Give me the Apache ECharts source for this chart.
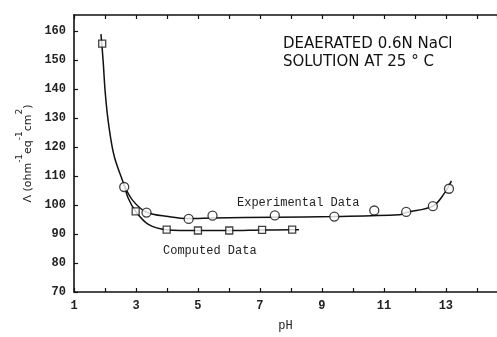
<!DOCTYPE html>
<html>
<head>
<meta charset="utf-8">
<script src="https://cdn.jsdelivr.net/npm/echarts@6/dist/echarts.min.js"></script>
<style>
  html, body { margin: 0; padding: 0; background: #fff; }
  #chart { width: 497px; height: 337px; }
</style>
</head>
<body>
<div id="chart"></div>
<script>
// fitted curves
const computedCurve = [
  [1.87, 158.9], [1.94, 149.7], [2.01, 138.5], [2.12, 127.6], [2.30, 116.7],
  [2.62, 106.8], [2.75, 102.3], [2.99, 97.8], [3.4, 93.3], [3.99, 91.5],
  [5.0, 91.2], [6.01, 91.2], [7.07, 91.4], [8.04, 91.5], [8.26, 91.5]
]
const experimentalCurve = [
  [2.62, 106.8], [2.9, 101.5], [3.34, 97.5], [4.05, 96.0], [4.7, 95.3],
  [5.5, 95.5], [7.5, 95.8], [9.4, 96.0], [11.5, 96.6], [11.72, 97.4],
  [12.58, 99.6], [12.95, 104.0], [13.18, 108.3]
]
// measured points
const computedPoints = [
  [1.91, 155.6], [2.99, 97.8], [3.99, 91.5], [5.0, 91.2], [6.01, 91.2],
  [7.07, 91.4], [8.04, 91.5]
]
const experimentalPoints = [
  [2.62, 106.2], [3.34, 97.4], [4.70, 95.2], [5.47, 96.3], [7.48, 96.4],
  [9.40, 96.0], [10.69, 98.1], [11.72, 97.6], [12.58, 99.6], [13.1, 105.6]
]
const xTickLabels = [1, 3, 5, 7, 9, 11, 13]

const mono = 'Liberation Mono'
const chart = echarts.init(document.getElementById('chart'))

const axisCommon = {
  type: 'value',
  min: 1,
  max: 14.65,
  interval: 1,
  axisLine: { lineStyle: { color: '#111', width: 1.6 } },
  axisTick: { inside: true, length: 4, lineStyle: { color: '#111', width: 1.2 } },
  splitLine: { show: false }
}

chart.setOption({
  animation: false,
  grid: { left: 74, right: 0, top: 15, bottom: 34 },
  xAxis: [
    Object.assign({}, axisCommon, {
      position: 'bottom',
      name: 'pH',
      nameLocation: 'middle',
      nameGap: 28,
      nameTextStyle: { fontFamily: mono, fontSize: 12, color: '#222' },
      axisLabel: {
        fontFamily: mono, fontSize: 12, fontWeight: 'bold', color: '#222', margin: 8,
        showMaxLabel: false,
        formatter: v => (xTickLabels.includes(v) ? String(v) : '')
      }
    }),
    Object.assign({}, axisCommon, {
      position: 'top',
      axisLabel: { show: false }
    })
  ],
  yAxis: {
    type: 'value',
    min: 70,
    max: 165.5,
    interval: 10,
    axisLine: { lineStyle: { color: '#111', width: 1.6 } },
    axisTick: { inside: true, length: 4, lineStyle: { color: '#111', width: 1.2 } },
    splitLine: { show: false },
    axisLabel: {
      fontFamily: mono, fontSize: 12, fontWeight: 'bold', color: '#222', margin: 8,
      showMaxLabel: false
    },
    name: '{b|\u039b (ohm}{s|-1}{b|eq}{s|-1}{b|cm}{s|2}{b|)}',
    nameLocation: 'middle',
    nameGap: 30,
    nameTextStyle: {
      rich: {
        b: { fontFamily: 'DejaVu Sans', fontSize: 11, color: '#222', verticalAlign: 'bottom', lineHeight: 18 },
        s: { fontFamily: 'DejaVu Sans', fontSize: 9, color: '#222', verticalAlign: 'top', lineHeight: 18 }
      }
    }
  },
  graphic: [
    {
      type: 'text', left: 283, top: 35,
      style: {
        text: 'DEAERATED 0.6N NaCl\nSOLUTION AT 25 \u00b0 C',
        font: '15px "DejaVu Sans"', fill: '#111', lineHeight: 18
      }
    },
    {
      type: 'text', left: 237, top: 197,
      style: { text: 'Experimental Data', font: '12px "Liberation Mono"', fill: '#222' }
    },
    {
      type: 'text', left: 163, top: 245,
      style: { text: 'Computed Data', font: '12px "Liberation Mono"', fill: '#222' }
    }
  ],
  series: [
    {
      type: 'line', data: computedCurve, smooth: 0.35,
      showSymbol: false, lineStyle: { color: '#111', width: 1.5 }
    },
    {
      type: 'line', data: experimentalCurve, smooth: 0.35,
      showSymbol: false, lineStyle: { color: '#111', width: 1.5 }
    },
    {
      type: 'scatter', data: computedPoints, symbol: 'rect', symbolSize: 7, z: 5,
      itemStyle: { color: '#fff', borderColor: '#111', borderWidth: 1.3 }
    },
    {
      type: 'scatter', data: experimentalPoints, symbol: 'circle', symbolSize: 9, z: 5,
      itemStyle: { color: '#fff', borderColor: '#111', borderWidth: 1.3 }
    }
  ]
})
</script>
</body>
</html>
